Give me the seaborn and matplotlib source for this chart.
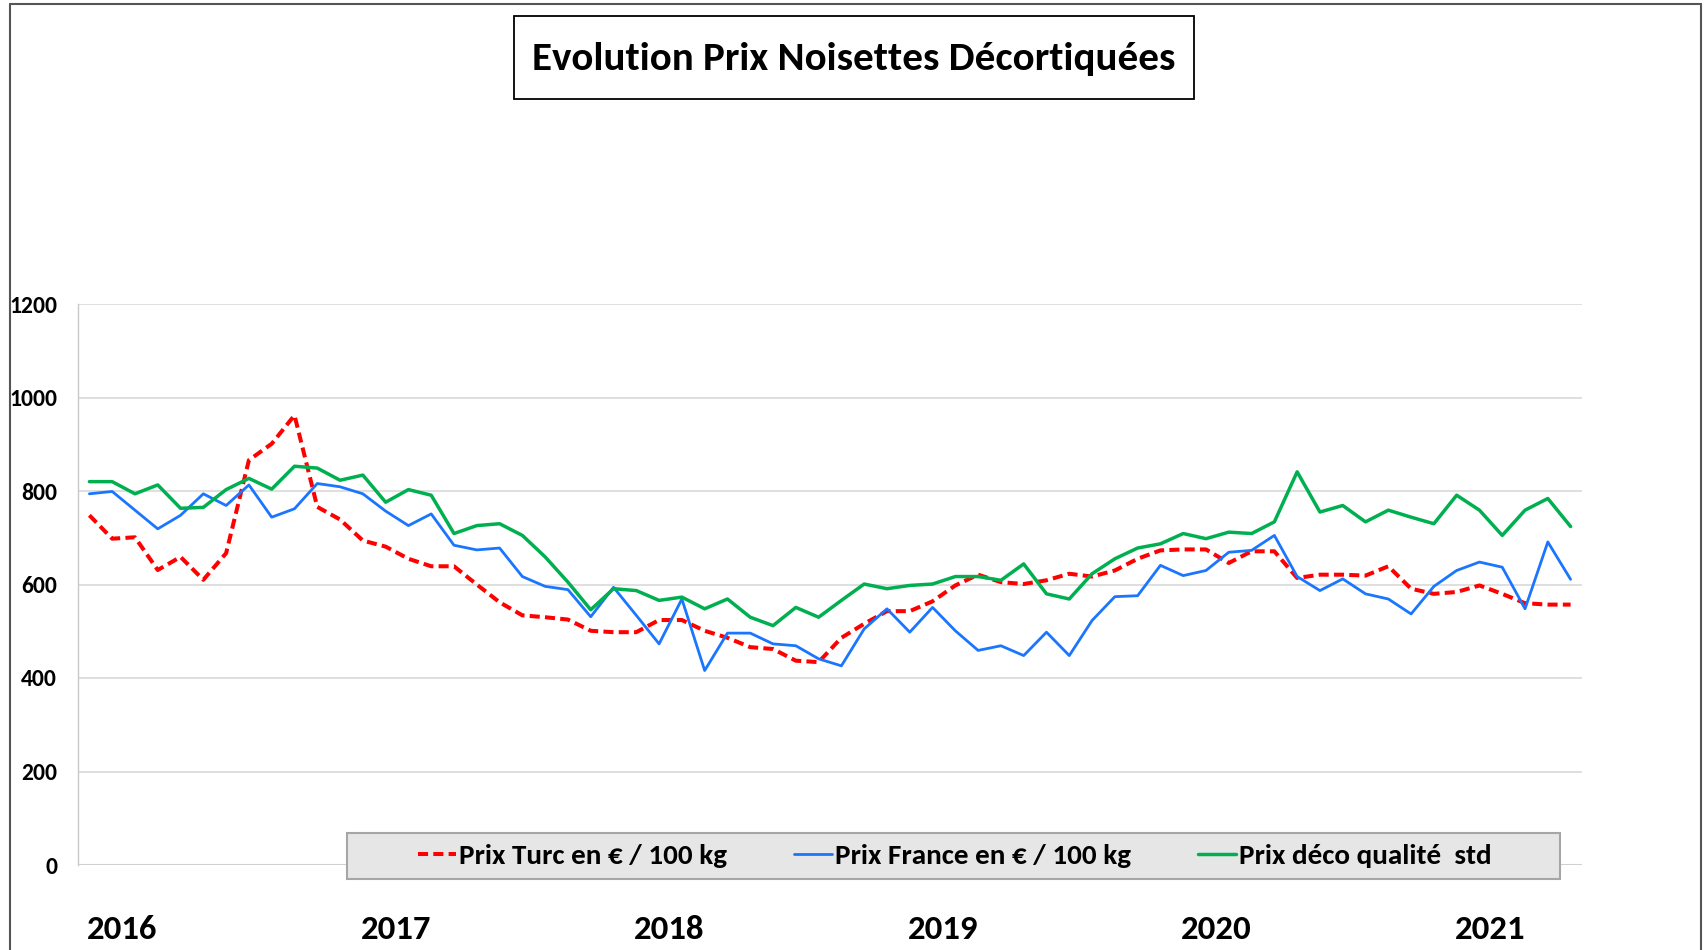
import matplotlib
matplotlib.use("Agg")
import matplotlib.pyplot as plt
import seaborn as sns
import pandas as pd
from matplotlib.lines import Line2D
from matplotlib.patches import Rectangle

# monthly prices, Jan 2016 .. Jun 2021
years = ["2016", "2017", "2018", "2019", "2020", "2021"]

prix_turc = [748, 698, 701, 631, 659, 610, 667, 866, 901, 962, 766, 739,
             694, 681, 655, 639, 639, 600, 562, 534, 530, 525, 501, 498,
             498, 524, 524, 501, 486, 466, 462, 437, 434, 486, 516, 543,
             543, 564, 598, 621, 605, 601, 609, 623, 617, 630, 655, 673,
             675, 675, 646, 671, 671, 614, 621, 621, 619, 639, 591, 580,
             584, 598, 580, 560, 557, 557]

prix_france = [794, 799, 759, 719, 748, 794, 769, 813, 744, 762, 816, 809,
               794, 757, 726, 751, 684, 674, 678, 617, 596, 589, 531, 594,
               534, 473, 569, 416, 496, 496, 473, 469, 441, 426, 505, 548,
               498, 551, 501, 459, 469, 448, 498, 448, 523, 574, 576, 641,
               619, 630, 669, 673, 705, 617, 587, 612, 580, 569, 537, 596,
               630, 648, 637, 548, 691, 611]

prix_deco = [820, 820, 794, 813, 763, 765, 803, 827, 804, 853, 849, 823,
             834, 776, 803, 791, 709, 726, 730, 705, 659, 605, 546, 591,
             587, 566, 573, 548, 569, 530, 512, 551, 530, 566, 601, 591,
             598, 601, 617, 617, 609, 644, 580, 569, 623, 655, 678, 687,
             709, 698, 712, 709, 734, 841, 755, 769, 734, 759, 744, 730,
             791, 759, 705, 759, 784, 724]

labels = ["Prix Turc en € / 100 kg", "Prix France en € / 100 kg", "Prix déco qualité  std"]

df = pd.DataFrame({"mois": range(len(prix_turc)),
                   "turc": prix_turc, "france": prix_france, "deco": prix_deco})

sns.set_style("white")
plt.rcParams["font.family"] = ["Liberation Sans Narrow", "Carlito", "Roboto Condensed",
                               "Lato", "DejaVu Sans"]
plt.rcParams["font.weight"] = "bold"
plt.rcParams["text.color"] = "black"
plt.rcParams["ytick.labelcolor"] = "black"

fig = plt.figure(figsize=(17.08, 9.5), dpi=100)
ax = fig.add_axes([78 / 1708, 85 / 950, 1504 / 1708, 561 / 950])

sns.lineplot(data=df, x="mois", y="turc", ax=ax, color="#ff0000", linewidth=2.9,
             linestyle=(0, (2.5, 1.3)), label=labels[0], legend=False)
sns.lineplot(data=df, x="mois", y="france", ax=ax, color="#1a75ff", linewidth=2.0,
             label=labels[1], legend=False)
sns.lineplot(data=df, x="mois", y="deco", ax=ax, color="#00b050", linewidth=2.5,
             label=labels[2], legend=False)

ax.set_xlim(-0.5, len(prix_turc) - 0.5)
ax.set_ylim(0, 1200)
ax.set_yticks(range(0, 1201, 200))
ax.set_xticks([])
ax.set_xlabel("")
ax.set_ylabel("")
ax.grid(axis="y", color="#d9d9d9", linewidth=1.2)
ax.set_axisbelow(True)
for s in ["top", "right", "bottom"]:
    ax.spines[s].set_visible(False)
ax.spines["left"].set_color("#c8c8c8")
ax.spines["left"].set_linewidth(1.0)
ax.axhline(0, color="#d0d0d0", linewidth=2.2, zorder=1)
ax.tick_params(axis="y", length=6, color="#c8c8c8", pad=9, labelsize=17, labelcolor="black")
for t in ax.get_yticklabels():
    t.set_fontweight("bold")

# year labels at each January
for k, y in enumerate(years):
    ax.text(12 * k - 0.1, -138, y, ha="left", va="center", fontsize=25,
            fontweight="bold", color="black", clip_on=False)

# title with its box
fig.add_artist(Rectangle((514 / 1708, 1 - 99 / 950), 680 / 1708, 83 / 950,
                         transform=fig.transFigure, facecolor="white",
                         edgecolor="black", linewidth=1.3))
fig.text(0.5, 1 - 59 / 950, "Evolution Prix Noisettes Décortiquées", ha="center", va="center",
         fontsize=29.5, fontweight="bold", color="black")

# legend with grey band
fig.add_artist(Rectangle((347 / 1708, 1 - 879 / 950), 1213 / 1708, 46 / 950,
                         transform=fig.transFigure, facecolor="#e6e6e6",
                         edgecolor="#a6a6a6", linewidth=1.5, zorder=3))
handles, labs = ax.get_legend_handles_labels()
leg = fig.legend(handles, labs, loc="center", bbox_to_anchor=(955 / 1708, 1 - 856 / 950),
                 ncol=3, frameon=False, fontsize=21, handlelength=1.3,
                 handletextpad=0.1, columnspacing=2.3)
leg.set_zorder(4)
for t in leg.get_texts():
    t.set_fontweight("bold")
    t.set_color("black")

# outer border (left, top, right)
bc = "#555555"
fig.add_artist(Line2D([10 / 1708, 10 / 1708], [0, 1 - 4 / 950], color=bc, lw=1.5, transform=fig.transFigure))
fig.add_artist(Line2D([10 / 1708, 1701 / 1708], [1 - 4 / 950, 1 - 4 / 950], color=bc, lw=1.5, transform=fig.transFigure))
fig.add_artist(Line2D([1701 / 1708, 1701 / 1708], [0, 1 - 4 / 950], color=bc, lw=1.5, transform=fig.transFigure))

fig.savefig("out.png", dpi=100)
